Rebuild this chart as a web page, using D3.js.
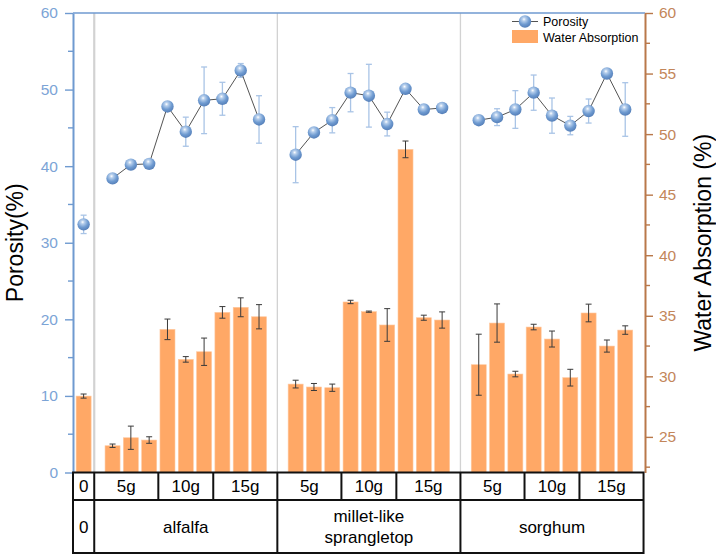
<!DOCTYPE html>
<html>
<head>
<meta charset="utf-8">
<script src="https://cdn.jsdelivr.net/npm/d3@7"></script>
<style>
  body { margin: 0; background: #fff; }
  svg { display: block; font-family: "Liberation Sans", Arial, sans-serif; }
</style>
</head>
<body>
<div id="chart"></div>
<script>
// groups on the bottom table
const groups = ['0', 'alfalfa', 'millet-like\nsprangletop', 'sorghum'];
const doses = ['5g', '10g', '15g'];

// porosity (%) - control, then 9 samples per plant (3 per dose)
const porosity = [32.4,
  38.4, 40.2, 40.3, 47.8, 44.5, 48.6, 48.8, 52.5, 46.1,
  41.5, 44.4, 46.0, 49.6, 49.2, 45.5, 50.1, 47.4, 47.6,
  46.0, 46.4, 47.4, 49.6, 46.6, 45.3, 47.2, 52.1, 47.4];
const porosityErr = [1.2,
  0.4, 0.3, 0.3, 0.3, 1.9, 4.35, 2.15, 0.9, 3.1,
  3.66, 0.4, 1.65, 2.5, 4.1, 1.55, 0.4, 0.3, 0.3,
  0.3, 1.1, 2.46, 2.3, 2.3, 1.2, 1.57, 0.3, 3.5];

// water absorption (%) - right axis
const absorption = [28.37,
  24.27, 24.93, 24.74, 33.88, 31.4, 32.03, 35.28, 35.7, 34.92,
  29.36, 29.12, 29.06, 36.14, 35.34, 34.24, 48.74, 34.84, 34.65,
  30.96, 34.4, 30.19, 34.07, 33.08, 29.89, 35.23, 32.5, 33.82];
const absorptionErr = [0.17,
  0.14, 0.96, 0.27, 0.85, 0.23, 1.13, 0.48, 0.78, 1.0,
  0.32, 0.29, 0.3, 0.14, 0.05, 1.35, 0.69, 0.21, 0.67,
  2.52, 1.58, 0.23, 0.23, 0.66, 0.69, 0.73, 0.5, 0.35];

const leftTicks = [0, 10, 20, 30, 40, 50, 60];
const rightTicks = [25, 30, 35, 40, 45, 50, 55, 60];

const width = 716, height = 560;
const plot = { left: 73, right: 645, top: 13, bottom: 472.5 };
const tableMid = 500, tableBottom = 553;

const blue = '#6f9ad0', blueText = '#7ca4d6';
const brown = '#b9784a', brownText = '#c3865a';
const orange = '#ffa866';

// slot layout: control group is narrow, plant groups have 10 slots each
const ctrlWidth = 1.16;
const groupLeft = g => g === 0 ? 0 : ctrlWidth + (g - 1) * 10;
const groupRight = g => g === 0 ? ctrlWidth : groupLeft(g) + 10;
const slotX = i => i === 0 ? ctrlWidth / 2 : groupLeft(Math.floor((i - 1) / 9) + 1) + 1 + (i - 1) % 9;
const groupOf = i => i === 0 ? 0 : Math.floor((i - 1) / 9) + 1;

const x = d3.scaleLinear().domain([0, 31.24]).range([plot.left, plot.right]);
const yL = d3.scaleLinear().domain([0, 60]).range([plot.bottom, plot.top]);
const yR = d3.scaleLinear().domain([22.06, 60]).range([plot.bottom, plot.top]);
const slot = x(1) - x(0);
const barWidth = slot * 0.82;

const svg = d3.select('#chart').append('svg')
  .attr('width', width).attr('height', height);

const defs = svg.append('defs');
const grad = defs.append('radialGradient').attr('id', 'ball')
  .attr('cx', '42%').attr('cy', '32%').attr('r', '65%');
grad.append('stop').attr('offset', '0%').attr('stop-color', '#ffffff');
grad.append('stop').attr('offset', '22%').attr('stop-color', '#b7cfec');
grad.append('stop').attr('offset', '65%').attr('stop-color', '#6f9bd1');
grad.append('stop').attr('offset', '100%').attr('stop-color', '#5882bb');

// group separators
svg.append('g').selectAll('line')
  .data([1, 2, 3])
  .join('line')
  .attr('x1', g => x(groupLeft(g))).attr('x2', g => x(groupLeft(g)))
  .attr('y1', plot.top).attr('y2', plot.bottom)
  .attr('stroke', '#d2d2d2')
  .attr('stroke-width', g => g === 1 ? 2.2 : 1.3);

// bars
svg.append('g').selectAll('rect')
  .data(absorption)
  .join('rect')
  .attr('x', (d, i) => x(slotX(i)) - barWidth / 2)
  .attr('y', d => yR(d))
  .attr('width', barWidth)
  .attr('height', d => plot.bottom - yR(d))
  .attr('fill', orange)
  .attr('stroke', '#ffc9a0')
  .attr('stroke-width', 0.6);

// bar error bars
const barErr = svg.append('g').attr('stroke', '#3a3a3a').attr('stroke-width', 1);
absorption.forEach((d, i) => {
  const cx = x(slotX(i)), e = absorptionErr[i];
  barErr.append('line').attr('x1', cx).attr('x2', cx).attr('y1', yR(d + e)).attr('y2', yR(d - e));
  [d + e, d - e].forEach(v => {
    barErr.append('line').attr('x1', cx - 3).attr('x2', cx + 3).attr('y1', yR(v)).attr('y2', yR(v));
  });
});

// porosity error bars
const porErr = svg.append('g').attr('stroke', '#a9c4e6').attr('stroke-width', 1.3);
porosity.forEach((d, i) => {
  const cx = x(slotX(i)), e = porosityErr[i];
  porErr.append('line').attr('x1', cx).attr('x2', cx).attr('y1', yL(d + e)).attr('y2', yL(d - e));
  [d + e, d - e].forEach(v => {
    porErr.append('line').attr('x1', cx - 3).attr('x2', cx + 3).attr('y1', yL(v)).attr('y2', yL(v));
  });
});

// porosity lines, one per plant group
const line = d3.line().x(d => x(slotX(d))).y(d => yL(porosity[d]));
[1, 2, 3].forEach(g => {
  const idx = d3.range(porosity.length).filter(i => groupOf(i) === g);
  svg.append('path')
    .attr('d', line(idx))
    .attr('fill', 'none')
    .attr('stroke', '#404040')
    .attr('stroke-width', 0.9);
});

svg.append('g').selectAll('circle')
  .data(porosity)
  .join('circle')
  .attr('cx', (d, i) => x(slotX(i)))
  .attr('cy', d => yL(d))
  .attr('r', 6.2)
  .attr('fill', 'url(#ball)');

// top frame line
svg.append('line')
  .attr('x1', plot.left).attr('x2', plot.right)
  .attr('y1', plot.top).attr('y2', plot.top)
  .attr('stroke', blue).attr('stroke-width', 1.6);

// left axis
const leftAxis = svg.append('g')
  .attr('transform', `translate(${plot.left},0)`)
  .call(d3.axisLeft(yL).tickValues(leftTicks).tickSize(8).tickPadding(7).tickSizeOuter(0));
leftAxis.select('.domain').attr('stroke', blue).attr('stroke-width', 2);
leftAxis.selectAll('.tick line').attr('stroke', blue).attr('stroke-width', 1.4);
leftAxis.selectAll('.tick text').attr('fill', blueText).style('font-size', '15.5px');
svg.append('g').selectAll('line')
  .data(d3.range(5, 60, 10))
  .join('line')
  .attr('x1', plot.left - 5).attr('x2', plot.left)
  .attr('y1', d => yL(d)).attr('y2', d => yL(d))
  .attr('stroke', blue).attr('stroke-width', 1.4);

// right axis
const rightAxis = svg.append('g')
  .attr('transform', `translate(${plot.right},0)`)
  .call(d3.axisRight(yR).tickValues(rightTicks).tickSize(8).tickPadding(6).tickSizeOuter(0));
rightAxis.select('.domain').attr('stroke', brown).attr('stroke-width', 2);
rightAxis.selectAll('.tick line').attr('stroke', brown).attr('stroke-width', 1.4);
rightAxis.selectAll('.tick text').attr('fill', brownText).style('font-size', '15.5px');
svg.append('g').selectAll('line')
  .data(d3.range(22.5, 60, 5))
  .join('line')
  .attr('x1', plot.right).attr('x2', plot.right + 5)
  .attr('y1', d => yR(d)).attr('y2', d => yR(d))
  .attr('stroke', brown).attr('stroke-width', 1.4);

// axis titles
svg.append('text')
  .attr('transform', `translate(23,${(plot.top + plot.bottom) / 2}) rotate(-90)`)
  .attr('text-anchor', 'middle')
  .style('font-size', '23px')
  .text('Porosity(%)');

svg.append('text')
  .attr('transform', `translate(711,${(plot.top + plot.bottom) / 2}) rotate(-90)`)
  .attr('text-anchor', 'middle')
  .style('font-size', '23px')
  .text('Water Absorption (%)');

// legend
const legend = svg.append('g').attr('transform', 'translate(512,0)');
legend.append('line').attr('x1', 0).attr('x2', 26).attr('y1', 21.5).attr('y2', 21.5)
  .attr('stroke', '#404040').attr('stroke-width', 0.9);
legend.append('circle').attr('cx', 13).attr('cy', 21.5).attr('r', 6.2).attr('fill', 'url(#ball)');
legend.append('text').attr('x', 31).attr('y', 26).style('font-size', '12.5px').text('Porosity');
legend.append('rect').attr('x', 0).attr('y', 30).attr('width', 26).attr('height', 13).attr('fill', orange);
legend.append('text').attr('x', 31).attr('y', 41.5).style('font-size', '12.5px').text('Water Absorption');

// bottom table
const table = svg.append('g').attr('stroke', '#111').attr('stroke-width', 2);
table.append('rect')
  .attr('x', x(0)).attr('y', plot.bottom)
  .attr('width', x(groupRight(3)) - x(0)).attr('height', tableBottom - plot.bottom)
  .attr('fill', 'none');
table.append('line')
  .attr('x1', x(0)).attr('x2', x(groupRight(3)))
  .attr('y1', tableMid).attr('y2', tableMid);
[1, 2, 3].forEach(g => {
  table.append('line').attr('x1', x(groupLeft(g))).attr('x2', x(groupLeft(g)))
    .attr('y1', plot.bottom).attr('y2', tableBottom);
  [3.5, 6.5].forEach(o => {
    table.append('line').attr('x1', x(groupLeft(g) + o)).attr('x2', x(groupLeft(g) + o))
      .attr('y1', plot.bottom).attr('y2', tableMid);
  });
});

const cells = [{ x0: 0, x1: ctrlWidth, label: '0' }];
[1, 2, 3].forEach(g => {
  const l = groupLeft(g);
  [[0, 3.5], [3.5, 6.5], [6.5, 10]].forEach((b, k) => {
    cells.push({ x0: l + b[0], x1: l + b[1], label: doses[k] });
  });
});
svg.append('g').selectAll('text')
  .data(cells)
  .join('text')
  .attr('x', d => (x(d.x0) + x(d.x1)) / 2)
  .attr('y', (plot.bottom + tableMid) / 2)
  .attr('dy', '0.36em')
  .attr('text-anchor', 'middle')
  .style('font-size', '17px')
  .text(d => d.label);

groups.forEach((name, g) => {
  const cx = (x(groupLeft(g)) + x(groupRight(g))) / 2;
  const lines = name.split('\n');
  const t = svg.append('text')
    .attr('text-anchor', 'middle')
    .style('font-size', '17px');
  lines.forEach((s, k) => {
    t.append('tspan')
      .attr('x', cx)
      .attr('y', (tableMid + tableBottom) / 2 + (k - (lines.length - 1) / 2) * 21.5)
      .attr('dy', '0.36em')
      .text(s);
  });
});
</script>
</body>
</html>
